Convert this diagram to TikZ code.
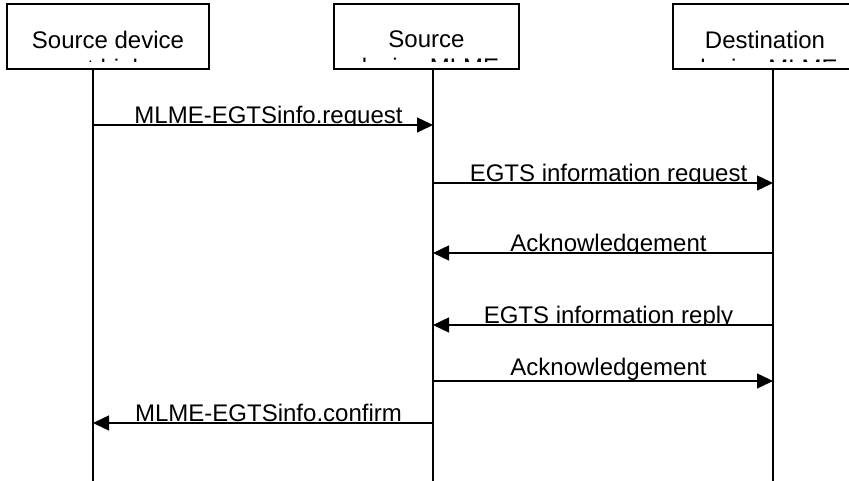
\documentclass[tikz,border=0pt]{standalone}
\usepackage{fontspec}
\setmainfont{Liberation Sans}
\usetikzlibrary{arrows.meta,calc}
\begin{document}
\begin{tikzpicture}[x=1pt, y=-1pt, line width=1.4pt,
  every node/.style={font=\fontsize{24}{28}\selectfont, inner sep=0pt}]
 \useasboundingbox (0,0) rectangle (849,481);

 % boxes {left/right/lifeline/name/label}, text cut at the box bottom
 \foreach \xl/\xr/\xm/\nm/\lbl in {7/209/93/dev/{Source device\\next higher\\layer},
   334/519/433/src/{Source\\device MLME}, 673/857/773/dst/{Destination\\device MLME}} {
  \draw (\xl,4) rectangle (\xr,69);
  \begin{scope}
   \clip (\xl,4) rectangle (\xr,62);
   \node [align=center, anchor=north] (\nm box) at ({(\xl+\xr)/2},30) {\lbl};
  \end{scope}
  \coordinate (\nm) at (\xm,69);
  \coordinate (\nm end) at (\xm,481);
  \draw (\nm) -- (\nm end);
 }

 % define a message with [lift] and 4 arguments {y}{from}{to}{label}
 \newcommand{\Msg}[5][1.5]{
  \coordinate (m#2a) at (#3|-0,#2);
  \coordinate (m#2b) at (#4|-0,#2);
  \draw [-{Triangle[length=16pt,width=15pt]}] (m#2a) -- (m#2b);
  \begin{scope}
   % descenders are hidden by the line
   \clip (0,0) rectangle (849,#2);
   \node [anchor=base, xshift=5.5pt, yshift=#1pt] (l#2) at ($(m#2a)!0.5!(m#2b)$) {#5};
  \end{scope}
 }

 \Msg{125}{dev}{src}{MLME-EGTSinfo.request}
 \Msg{183}{src}{dst}{EGTS information request}
 \Msg{253}{dst}{src}{Acknowledgement}
 \Msg{325}{dst}{src}{EGTS information reply}
 \Msg[6]{381}{src}{dst}{Acknowledgement}
 \Msg{423}{src}{dev}{MLME-EGTSinfo.confirm}
\end{tikzpicture}
\end{document}
